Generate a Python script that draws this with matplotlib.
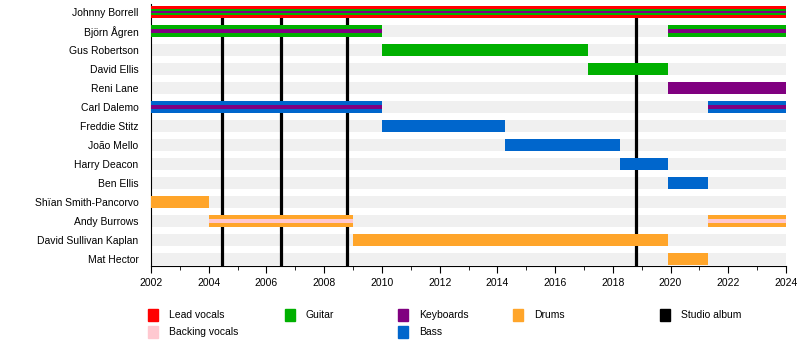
import matplotlib
matplotlib.use('Agg')
import matplotlib.pyplot as plt
from matplotlib.patches import Rectangle

plt.rcParams['font.family'] = ['Liberation Sans', 'DejaVu Sans']

members = ['Johnny Borrell', 'Björn Ågren', 'Gus Robertson', 'David Ellis',
           'Reni Lane', 'Carl Dalemo', 'Freddie Stitz', 'João Mello',
           'Harry Deacon', 'Ben Ellis', 'Shïan Smith-Pancorvo', 'Andy Burrows',
           'David Sullivan Kaplan', 'Mat Hector']

# one entry per membership period: member, start, end, roles (outer -> inner)
span_member = ['Johnny Borrell', 'Björn Ågren', 'Björn Ågren', 'Gus Robertson',
               'David Ellis', 'Reni Lane', 'Carl Dalemo', 'Carl Dalemo',
               'Freddie Stitz', 'João Mello', 'Harry Deacon', 'Ben Ellis',
               'Shïan Smith-Pancorvo', 'Andy Burrows', 'Andy Burrows',
               'David Sullivan Kaplan', 'Mat Hector']
span_start = [2002.0, 2002.0, 2019.9, 2010.0, 2017.15, 2019.9, 2002.0, 2021.3,
              2010.0, 2014.25, 2018.25, 2019.9, 2002.0, 2004.0, 2021.3,
              2009.0, 2019.9]
span_end = [2024.0, 2010.0, 2024.0, 2017.15, 2019.9, 2024.0, 2010.0, 2024.0,
            2014.25, 2018.25, 2019.9, 2021.3, 2004.0, 2009.0, 2024.0,
            2019.9, 2021.3]
span_roles = [['Lead vocals', 'Guitar', 'Keyboards'],
              ['Guitar', 'Keyboards'], ['Guitar', 'Keyboards'],
              ['Guitar'], ['Guitar'], ['Keyboards'],
              ['Bass', 'Keyboards'], ['Bass', 'Keyboards'],
              ['Bass'], ['Bass'], ['Bass'], ['Bass'],
              ['Drums'], ['Drums', 'Backing vocals'], ['Drums', 'Backing vocals'],
              ['Drums'], ['Drums']]

albums = [2004.45, 2006.5, 2008.8, 2018.8]

role_colors = {'Lead vocals': '#ff0000', 'Backing vocals': '#ffc8d0',
               'Guitar': '#00b000', 'Keyboards': '#800080',
               'Bass': '#0066cc', 'Drums': '#ffa52a'}

x0, x1 = 2002, 2024

fig = plt.figure(figsize=(8, 3.45), dpi=100)
ax = fig.add_axes([151/800, 79/345, 635/800, 262/345])

ypos = {m: i for i, m in enumerate(members)}
ybot = len(members) - 1 + 0.37

# background stripes
for i in range(len(members)):
    ax.barh(i, x1 - x0, left=x0, height=0.64, color='#f0f0f0', zorder=1)

for m, s, e, roles in zip(span_member, span_start, span_end, span_roles):
    if len(roles) == 3:
        hs = [0.64, 0.34, 0.08]
    elif len(roles) == 2:
        hs = [0.64, 0.22]
    else:
        hs = [0.64]
    for k, r in enumerate(roles):
        ax.barh(ypos[m], e - s, left=s, height=hs[k], color=role_colors[r], zorder=3 + k)

ax.vlines(albums, 0, ybot, color='black', lw=2.3, zorder=2)

ax.set_xlim(x0, x1)
ax.set_ylim(ybot, -0.42)
ax.set_yticks(range(len(members)))
ax.set_yticklabels(members, fontsize=7.5)
ax.tick_params(axis='y', length=0, pad=9)
ax.set_xticks(range(2002, 2025, 2))
ax.set_xticks(range(2002, 2025), minor=True)
ax.tick_params(axis='x', which='major', length=5, labelsize=7.5, pad=4)
ax.tick_params(axis='x', which='minor', length=3)
for sp in ['top', 'right']:
    ax.spines[sp].set_visible(False)

# legend
legend_items = [('Lead vocals', 148, 315), ('Backing vocals', 148, 332),
                ('Guitar', 285, 315), ('Keyboards', 398, 315), ('Bass', 398, 332),
                ('Drums', 513, 315), ('Studio album', 660, 315)]
for name, px, py in legend_items:
    c = role_colors.get(name, 'black')
    fig.patches.append(Rectangle((px / 800, (345 - py - 6) / 345), 10 / 800, 12 / 345,
                                 transform=fig.transFigure, color=c))
    fig.text((px + 21) / 800, (345 - py) / 345, name, fontsize=7.5, va='center')

fig.savefig('out.png', dpi=100)
